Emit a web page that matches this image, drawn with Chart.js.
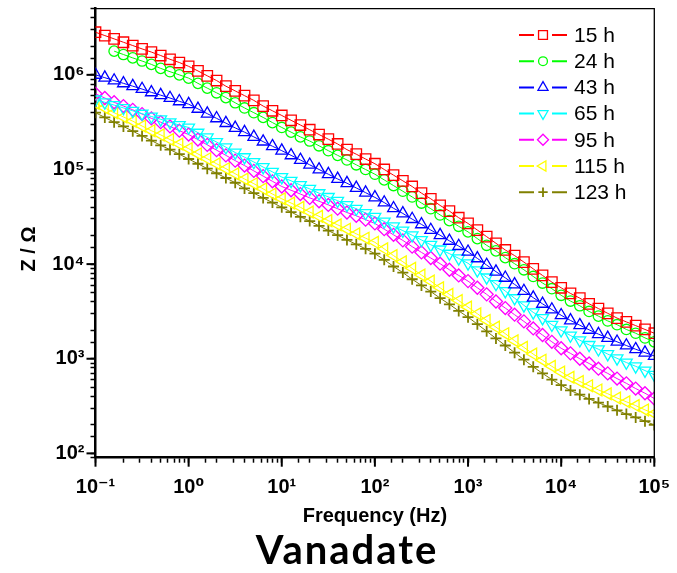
<!DOCTYPE html>
<html>
<head>
<meta charset="utf-8">
<script src="https://cdn.jsdelivr.net/npm/chart.js@4.4.1/dist/chart.umd.min.js"></script>
<style>
  html, body { margin: 0; padding: 0; background: #fff; }
  #wrap { position: relative; width: 677px; height: 573px; }
  #caption {
    position: absolute; left: 347px; top: 529px; transform: translateX(-50%);
    font: bold 40px Lato, "Open Sans", sans-serif; line-height: 1; letter-spacing: 2px;
    white-space: nowrap; color: #000;
  }
</style>
</head>
<body>
<div id="wrap">
  <canvas id="impedanceChart" width="677" height="573"></canvas>
  <div id="caption">Vanadate</div>
</div>
<script>
// frequency (Hz), 10 points per decade
const frequency = [
  0.1, 0.1259, 0.1585, 0.1995, 0.2512, 0.3162, 0.3981, 0.5012, 0.631, 0.7943,
  1, 1.259, 1.585, 1.995, 2.512, 3.162, 3.981, 5.012, 6.31, 7.943,
  10, 12.59, 15.85, 19.95, 25.12, 31.62, 39.81, 50.12, 63.1, 79.43,
  100, 125.9, 158.5, 199.5, 251.2, 316.2, 398.1, 501.2, 631, 794.3,
  1000, 1259, 1585, 1995, 2512, 3162, 3981, 5012, 6310, 7943,
  10000, 12590, 15850, 19950, 25120, 31620, 39810, 50120, 63100, 79430,
  100000
];

// |Z| in ohm
const z15h = [
  2820000, 2600000, 2400000, 2210000, 2040000, 1880000, 1740000, 1600000, 1460000, 1350000,
  1230000, 1100000, 977000, 871000, 759000, 676000, 603000, 537000, 468000, 417000,
  372000, 331000, 295000, 263000, 234000, 209000, 186000, 162000, 145000, 129000,
  115000, 100000, 87100, 75900, 66100, 56200, 49000, 41700, 36300, 30900,
  26900, 22900, 19500, 16600, 14100, 12300, 10500, 8910, 7590, 6460,
  5620, 4900, 4370, 3800, 3390, 3020, 2690, 2450, 2240, 2040,
  1860
];
const z24h = [
  null, null, 1780000, 1640000, 1510000, 1400000, 1290000, 1170000, 1080000, 1000000,
  923000, 813000, 724000, 646000, 575000, 507000, 447000, 398000, 355000, 313000,
  278000, 248000, 221000, 200000, 178000, 158000, 141000, 126000, 112000, 100000,
  89100, 77600, 67600, 58900, 51300, 44200, 38500, 33100, 28800, 25100,
  21900, 18600, 15800, 13800, 11700, 10100, 8710, 7410, 6310, 5500,
  4680, 4070, 3630, 3160, 2820, 2510, 2290, 2040, 1860, 1660,
  1510
];
const z43h = [
  1000000, 933000, 871000, 813000, 759000, 708000, 653000, 610000, 569000, 525000,
  490000, 437000, 389000, 347000, 309000, 275000, 248000, 221000, 197000, 176000,
  158000, 141000, 126000, 112000, 100000, 89100, 79400, 71600, 63800, 56900,
  50700, 44700, 38900, 34300, 29900, 26300, 22900, 20200, 17600, 15500,
  13500, 11500, 9770, 8320, 7160, 6100, 5190, 4420, 3800, 3310,
  2880, 2540, 2260, 2020, 1820, 1660, 1510, 1380, 1260, 1160,
  1070
];
const z65h = [
  550000, 513000, 479000, 447000, 417000, 389000, 363000, 339000, 316000, 295000,
  278000, 245000, 219000, 195000, 172000, 151000, 135000, 120000, 106000, 94400,
  83200, 75900, 68400, 62400, 56200, 51300, 46800, 42200, 38500, 34700,
  31600, 28200, 25100, 22600, 20200, 18000, 16000, 14300, 12900, 11500,
  10200, 8610, 7240, 6170, 5190, 4370, 3670, 3090, 2690, 2290,
  2000, 1760, 1570, 1400, 1260, 1120, 1010, 912, 832, 750,
  676
];
const z95h = [
  631000, 569000, 513000, 468000, 427000, 385000, 347000, 316000, 285000, 257000,
  234000, 207000, 182000, 160000, 141000, 124000, 110000, 96600, 85100, 75000,
  66100, 60300, 55000, 50100, 46200, 42200, 38500, 35100, 32400, 29500,
  26900, 23400, 20400, 17800, 15300, 13300, 11600, 10100, 8710, 7590,
  6610, 5620, 4790, 4030, 3430, 2920, 2480, 2090, 1780, 1510,
  1290, 1140, 1000, 891, 785, 700, 617, 550, 484, 432,
  380
];
const z115h = [
  501000, 447000, 398000, 359000, 324000, 288000, 257000, 232000, 207000, 186000,
  166000, 146000, 130000, 115000, 102000, 90200, 79400, 70800, 62400, 55000,
  49000, 44200, 39800, 35500, 32000, 28800, 26000, 23400, 20900, 18800,
  17000, 14500, 12300, 10600, 9020, 7670, 6610, 5620, 4790, 4120,
  3510, 2990, 2540, 2160, 1840, 1550, 1320, 1120, 966, 832,
  724, 638, 575, 519, 468, 427, 385, 351, 320, 288,
  263
];
const z123h = [
  398000, 355000, 316000, 285000, 254000, 226000, 202000, 180000, 162000, 145000,
  129000, 115000, 102000, 91200, 81300, 72400, 63100, 56200, 50100, 44700,
  39800, 35500, 31600, 28500, 25400, 22600, 20200, 18000, 16200, 14500,
  12900, 11100, 9440, 8130, 6920, 5960, 5130, 4370, 3760, 3200,
  2750, 2320, 1950, 1640, 1380, 1160, 977, 822, 700, 603,
  525, 462, 417, 376, 343, 313, 285, 260, 240, 219,
  200
];

const seriesLabels = ['15 h', '24 h', '43 h', '65 h', '95 h', '115 h', '123 h'];
const seriesValues = [z15h, z24h, z43h, z65h, z95h, z115h, z123h];

const xTickValues = [0.1, 1, 10, 100, 1000, 10000, 100000];
const xTickLabels = ['10⁻¹', '10⁰', '10¹', '10²', '10³', '10⁴', '10⁵'];
const yTickValues = [100, 1000, 10000, 100000, 1000000];
const yTickLabels = ['10²', '10³', '10⁴', '10⁵', '10⁶'];

// marker styles (Origin default colour order)
const seriesStyles = [
  { color: '#FF0000', pointStyle: 'rect', rotation: 0, radius: 7.4, width: 1.3 },
  { color: '#00FF00', pointStyle: 'circle', rotation: 0, radius: 5.2, width: 1.3 },
  { color: '#0000FF', pointStyle: 'triangle', rotation: 0, radius: 6.8, width: 1.3 },
  { color: '#00FFFF', pointStyle: 'triangle', rotation: 180, radius: 6.8, width: 1.3 },
  { color: '#FF00FF', pointStyle: 'rectRot', rotation: 0, radius: 6.5, width: 1.3 },
  { color: '#FFFF00', pointStyle: 'triangle', rotation: -90, radius: 6.8, width: 1.3 },
  { color: '#808000', pointStyle: 'cross', rotation: 0, radius: 5.5, width: 1.8 }
];

const AXIS_FONT = '"Liberation Sans", Arial, "DejaVu Sans", sans-serif';

function labelFor(values, labels, v) {
  const i = values.findIndex(t => Math.abs(Math.log10(t) - Math.log10(v)) < 1e-6);
  return i >= 0 ? labels[i] : '';
}

const datasets = seriesValues.map((vals, k) => {
  const st = seriesStyles[k];
  return {
    label: seriesLabels[k],
    data: frequency.map((f, i) => ({ x: f, y: vals[i] })).filter(p => p.y !== null),
    borderColor: st.color,
    borderWidth: 1,
    pointStyle: st.pointStyle,
    rotation: st.rotation,
    pointRadius: st.radius,
    pointBorderWidth: st.width,
    pointBorderColor: st.color,
    pointBackgroundColor: 'rgba(0,0,0,0)',
    tension: 0,
    clip: 0
  };
});

const decorPlugin = {
  id: 'decor',
  afterDraw(chart) {
    const { ctx, chartArea: a, scales: { x, y } } = chart;
    ctx.save();
    // top / right frame
    ctx.strokeStyle = '#000';
    ctx.lineWidth = 1.3;
    ctx.beginPath();
    ctx.moveTo(a.left, a.top);
    ctx.lineTo(a.right, a.top);
    ctx.lineTo(a.right, a.bottom);
    ctx.stroke();
    // longer major ticks
    ctx.lineWidth = 2;
    xTickValues.forEach(v => {
      const px = x.getPixelForValue(v);
      ctx.beginPath(); ctx.moveTo(px, a.bottom); ctx.lineTo(px, a.bottom + 9); ctx.stroke();
    });
    yTickValues.forEach(v => {
      const py = y.getPixelForValue(v);
      ctx.beginPath(); ctx.moveTo(a.left, py); ctx.lineTo(a.left - 9, py); ctx.stroke();
    });
    // y axis title
    ctx.translate(29, 249);
    ctx.rotate(-Math.PI / 2);
    ctx.fillStyle = '#000';
    ctx.font = 'bold 20px ' + AXIS_FONT;
    ctx.textAlign = 'center';
    ctx.textBaseline = 'middle';
    ctx.fillText('Z / Ω', 0, 0);
    ctx.restore();

    // legend
    ctx.save();
    seriesLabels.forEach((label, k) => {
      const st = seriesStyles[k];
      const yy = 35 + k * 26.2;
      ctx.strokeStyle = st.color;
      ctx.lineWidth = 2;
      ctx.beginPath();
      ctx.moveTo(519, yy); ctx.lineTo(534, yy);
      ctx.moveTo(552, yy); ctx.lineTo(567, yy);
      ctx.stroke();
      ctx.lineWidth = st.width;
      ctx.fillStyle = 'rgba(0,0,0,0)';
      Chart.helpers.drawPoint(ctx, {
        pointStyle: st.pointStyle, rotation: st.rotation, radius: st.radius * 0.85, borderWidth: st.width
      }, 543, yy);
      ctx.fillStyle = '#000';
      ctx.font = '21px ' + AXIS_FONT;
      ctx.textAlign = 'left';
      ctx.textBaseline = 'middle';
      ctx.fillText(label, 574, yy + 1);
    });
    ctx.restore();
  }
};

new Chart(document.getElementById('impedanceChart'), {
  type: 'line',
  data: { datasets },
  options: {
    responsive: false,
    animation: false,
    devicePixelRatio: 1,
    layout: { padding: { top: 7.3, right: 22.7, bottom: 45, left: 0 } },
    plugins: { legend: { display: false }, tooltip: { enabled: false } },
    scales: {
      x: {
        type: 'logarithmic',
        min: 0.1,
        max: 100000,
        afterFit: s => { s.height = 70.3; s.paddingLeft = 0; s.paddingRight = 0; },
        border: { display: true, color: '#000', width: 2.5 },
        grid: { drawOnChartArea: false, drawTicks: true, tickLength: 5, tickWidth: 1.5, tickColor: '#000' },
        ticks: {
          autoSkip: false, maxRotation: 0, padding: 13, color: '#000',
          font: { family: AXIS_FONT, size: 20, weight: 'bold' },
          callback: v => labelFor(xTickValues, xTickLabels, v)
        },
        title: {
          display: true, text: 'Frequency (Hz)', color: '#000',
          font: { family: AXIS_FONT, size: 20, weight: 'bold' },
          padding: { top: 0, bottom: 0 }
        }
      },
      y: {
        type: 'logarithmic',
        min: 90,
        max: 5000000,
        afterFit: s => { s.width = 95.5; s.paddingTop = 0; s.paddingBottom = 0; },
        border: { display: true, color: '#000', width: 2.5 },
        grid: { drawOnChartArea: false, drawTicks: true, tickLength: 5, tickWidth: 1.5, tickColor: '#000' },
        ticks: {
          autoSkip: false, padding: 6, color: '#000',
          font: { family: AXIS_FONT, size: 20, weight: 'bold' },
          callback: v => labelFor(yTickValues, yTickLabels, v)
        }
      }
    }
  },
  plugins: [decorPlugin]
});
</script>
</body>
</html>
